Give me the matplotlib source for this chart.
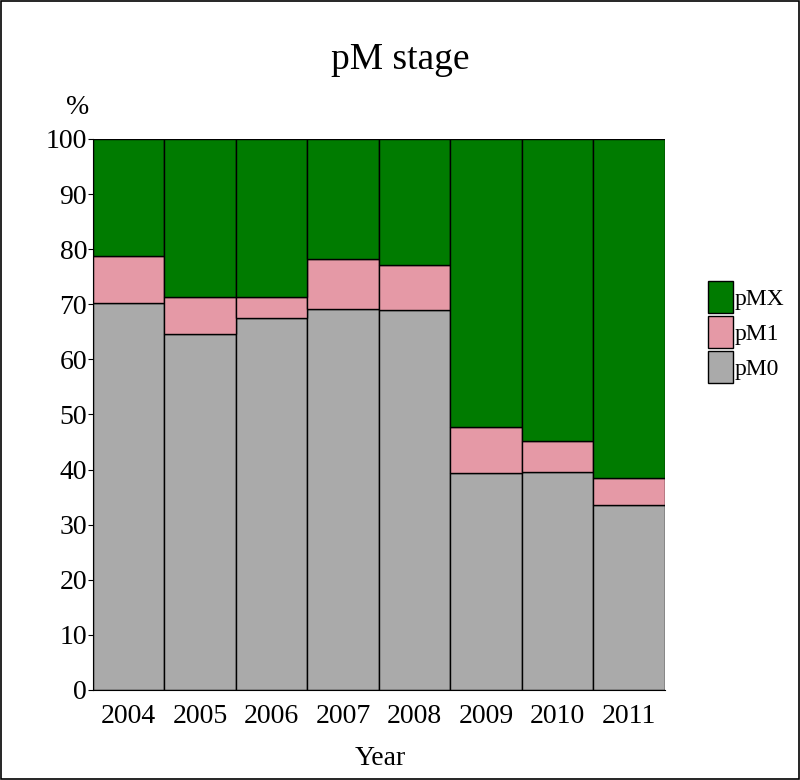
import matplotlib
matplotlib.use("Agg")
import matplotlib.pyplot as plt
import numpy as np
from matplotlib.patches import Rectangle, Patch

years = ["2004", "2005", "2006", "2007", "2008", "2009", "2010", "2011"]
pM0 = [70.2, 64.6, 67.6, 69.1, 68.9, 39.3, 39.6, 33.5]
pM1 = [8.5, 6.7, 3.8, 9.1, 8.2, 8.4, 5.5, 4.9]
pMX = [100 - a - b for a, b in zip(pM0, pM1)]

col_m0 = "#aaaaaa"
col_m1 = "#e599a6"
col_mx = "#007b00"

plt.rcParams['font.family'] = ['Liberation Serif', 'DejaVu Serif']

fig = plt.figure(figsize=(8, 7.8), dpi=100)
fig.patches.append(Rectangle((0.001, 0.001), 0.998, 0.998, transform=fig.transFigure,
                             fill=False, edgecolor="black", linewidth=1.2))
ax = fig.add_axes([0.116, 0.1154, 0.715, 0.7064])

x = np.arange(len(years))
b0 = np.array(pM0)
b1 = np.array(pM1)
b2 = np.array(pMX)
ax.bar(x, b0, width=1.0, color=col_m0, edgecolor="black", linewidth=1)
ax.bar(x, b1, width=1.0, bottom=b0, color=col_m1, edgecolor="black", linewidth=1)
ax.bar(x, b2, width=1.0, bottom=b0 + b1, color=col_mx, edgecolor="black", linewidth=1)

ax.set_xlim(-0.5, len(years) - 0.5)
ax.set_ylim(0, 100)
ax.set_yticks(range(0, 101, 10))
ax.set_xticks(x)
ax.set_xticklabels(years)
ax.tick_params(axis='y', labelsize=20, length=3.5, direction='out', pad=0.5)
ax.tick_params(axis='x', labelsize=20, length=0, pad=10)
for s in ["top", "right"]:
    ax.spines[s].set_visible(False)

fig.text(0.5, 0.923, "pM stage", ha="center", va="center", fontsize=27)
fig.text(0.097, 0.862, "%", ha="center", va="center", fontsize=20)
fig.text(0.475, 0.028, "Year", ha="center", va="center", fontsize=20)

handles = [Patch(facecolor=col_mx, edgecolor="black"),
           Patch(facecolor=col_m1, edgecolor="black"),
           Patch(facecolor=col_m0, edgecolor="black")]
fig.legend(handles, ["pMX", "pM1", "pM0"], loc="upper left",
           bbox_to_anchor=(0.885, 0.64), frameon=False, fontsize=17,
           handlelength=1.05, handleheight=1.75, labelspacing=0.1,
           handletextpad=0.08, borderpad=0, borderaxespad=0)

fig.savefig("out.png", dpi=100)
